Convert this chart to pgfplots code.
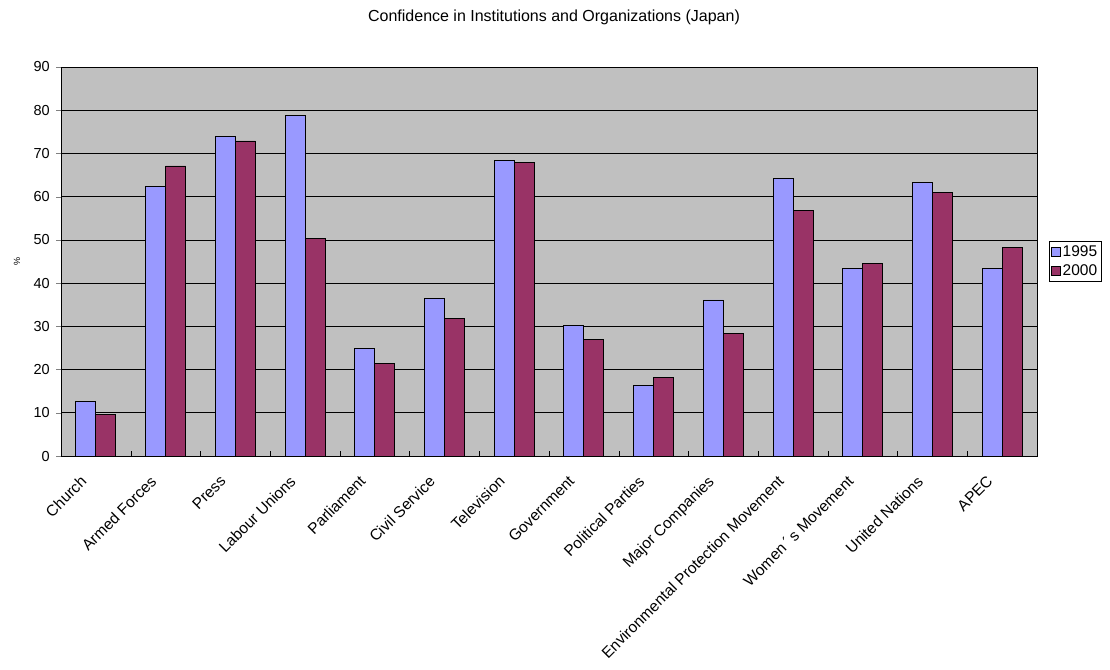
\documentclass[border=0pt]{standalone}
\usepackage{pgfplots}
\pgfplotsset{compat=1.18}
\usepackage{fontspec}
\setmainfont{Liberation Sans}
\definecolor{cA}{HTML}{9999FF}
\definecolor{cB}{HTML}{993366}
\definecolor{bg}{HTML}{C0C0C0}
\begin{document}
\begin{tikzpicture}
\path[use as bounding box] (0,0) rectangle (1110pt,-669pt);
\begin{axis}[
  at={(61pt,-456pt)}, anchor=south west,
  scale only axis, width=976pt, height=389pt,
  ybar=0pt, bar width=20pt,
  xmin=-0.5, xmax=13.5, ymin=0, ymax=90,
  ytick={0,10,...,90},
  xtick={0,...,13},
  xticklabels={Church,Armed Forces,Press,Labour Unions,Parliament,Civil Service,Television,Government,Political Parties,Major Companies,Environmental Protection Movement,{Women\,´\,s Movement},United Nations,APEC},
  xtick style={draw=none},
  extra x ticks={0.5,1.5,...,12.5},
  extra x tick labels={},
  extra x tick style={xtick style={draw=black}, tick align=inside},
  tick align=outside,
  xtick pos=bottom, ytick pos=left,
  major tick length=5pt,
  ymajorgrids,
  major grid style={black, line width=0.7pt},
  axis line style={black, line width=0.9pt},
  axis background/.style={fill=bg},
  /pgf/number format/assume math mode=true,
  yticklabel style={font=\fontsize{14.5}{16}\selectfont, inner sep=2pt, xshift=-4pt},
  xticklabel style={font=\fontsize{15.5}{17}\selectfont, rotate=45, anchor=north east, inner sep=2pt, xshift=-19pt, yshift=4pt},
  ylabel={\%},
  ylabel style={font=\fontsize{9}{10}\selectfont, at={(axis description cs:0,0.5)}, anchor=center, yshift=44pt},
  legend style={at={(1.012,0.5)}, anchor=west, draw=black, fill=white,
    font=\fontsize{15.5}{17}\selectfont, inner sep=2pt, row sep=3pt, cells={anchor=west}},
  legend image code/.code={\draw[#1, draw=black] (0pt,-4.5pt) rectangle (9pt,4.5pt);},
]
\addplot[fill=cA, draw=black, line width=0.8pt] coordinates {
(0,12.6) (1,62.3) (2,73.9) (3,78.7) (4,24.8) (5,36.4) (6,68.3) (7,30.2) (8,16.3) (9,36.1) (10,64.2) (11,43.3) (12,63.2) (13,43.3)};
\addplot[fill=cB, draw=black, line width=0.8pt] coordinates {
(0,9.7) (1,67.1) (2,72.9) (3,50.3) (4,21.5) (5,31.9) (6,67.9) (7,27.0) (8,18.1) (9,28.4) (10,56.9) (11,44.5) (12,60.9) (13,48.2)};
\legend{1995,2000}
\end{axis}
\node[font=\fontsize{16}{18}\selectfont] at (554pt,-17pt) {Confidence in Institutions and Organizations (Japan)};
\end{tikzpicture}
\end{document}
